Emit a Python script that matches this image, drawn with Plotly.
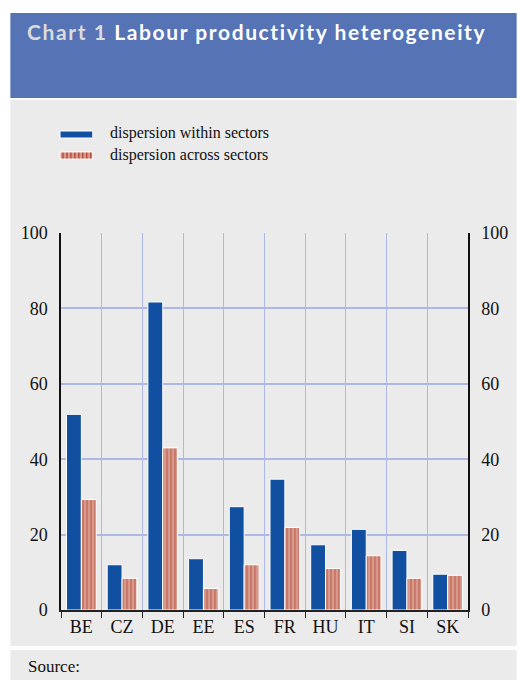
import plotly.graph_objects as go

# Country codes and the two dispersion measures (percent)
countries = ["BE", "CZ", "DE", "EE", "ES", "FR", "HU", "IT", "SI", "SK"]
within_sectors = [51.9, 12.0, 81.7, 13.6, 27.4, 34.7, 17.3, 21.4, 15.8, 9.5]
across_sectors = [29.3, 8.4, 43.0, 5.7, 12.0, 21.9, 11.0, 14.4, 8.4, 9.2]
y_ticks = [0, 20, 40, 60, 80, 100]

W, H = 520, 680
ML, MR, MT, MB = 61, 49, 233, 70
PW, PH = W - ML - MR, H - MT - MB

BLUE = "#1150a0"
SALMON = "#d59a8b"
STRIPE = "#ad2a1c"
GRID = "#aeb8e4"
PANEL = "#ebebeb"
HEADER = "#5573b5"
SERIF = "Liberation Serif, Times New Roman, serif"


def px(x):
    return (x - ML) / PW


def py(y):
    return (H - MB - y) / PH


fig = go.Figure()
fig.add_trace(go.Bar(
    x=countries, y=within_sectors, name="dispersion within sectors",
    marker=dict(color=BLUE, line=dict(color="white", width=1)),
    showlegend=False,
))
fig.add_trace(go.Bar(
    x=countries, y=across_sectors, name="dispersion across sectors",
    marker=dict(color=SALMON, line=dict(color="white", width=1),
                pattern=dict(shape="|", fgcolor=STRIPE, bgcolor=SALMON,
                             size=4, solidity=0.3)),
    showlegend=False,
))
# invisible trace so the right-hand axis is drawn
fig.add_trace(go.Scatter(x=countries, y=[None] * len(countries), yaxis="y2",
                         showlegend=False, hoverinfo="skip"))

shapes = [
    # header band and grey panels
    dict(type="rect", xref="paper", yref="paper", x0=px(10), x1=px(520),
         y0=py(13), y1=py(98), fillcolor=HEADER, line_width=0, layer="below"),
    dict(type="rect", xref="paper", yref="paper", x0=px(10), x1=px(520),
         y0=py(100), y1=py(646), fillcolor=PANEL, line_width=0, layer="below"),
    dict(type="rect", xref="paper", yref="paper", x0=px(10), x1=px(520),
         y0=py(650), y1=py(680), fillcolor=PANEL, line_width=0, layer="below"),
    # legend swatches
    dict(type="rect", xref="paper", yref="paper", x0=px(60), x1=px(93),
         y0=py(131), y1=py(138), fillcolor=BLUE, line=dict(color="white", width=1)),
    dict(type="rect", xref="paper", yref="paper", x0=px(60), x1=px(93),
         y0=py(152), y1=py(159), fillcolor=SALMON, line=dict(color="white", width=1)),
]
for sx in range(63, 93, 4):
    shapes.append(dict(type="line", xref="paper", yref="paper", x0=px(sx), x1=px(sx),
                       y0=py(152.5), y1=py(158.5), line=dict(color=STRIPE, width=1)))

title_text = ("<span style='letter-spacing:1.6px'>"
              "<span style='color:#dcdcdc'>Chart 1</span> Labour productivity heterogeneity"
              "</span>")

annotations = [
    dict(xref="paper", yref="paper", x=px(25), y=py(31), xanchor="left", yanchor="middle",
         text=title_text, showarrow=False,
         font=dict(family="Lato", size=21, color="white", weight="bold")),
    dict(xref="paper", yref="paper", x=px(108), y=py(133), xanchor="left", yanchor="middle",
         text="dispersion within sectors", showarrow=False,
         font=dict(family=SERIF, size=16, color="#111")),
    dict(xref="paper", yref="paper", x=px(108), y=py(155), xanchor="left", yanchor="middle",
         text="dispersion across sectors", showarrow=False,
         font=dict(family=SERIF, size=16, color="#111")),
    dict(xref="paper", yref="paper", x=px(26), y=py(666), xanchor="left", yanchor="middle",
         text="Source:", showarrow=False, font=dict(family=SERIF, size=17, color="#111")),
]

axis_font = dict(family=SERIF, size=18, color="#111")
fig.update_layout(
    width=W, height=H,
    margin=dict(l=ML, r=MR, t=MT, b=MB, pad=0),
    paper_bgcolor="white", plot_bgcolor="rgba(0,0,0,0)",
    barmode="group", bargap=0.27, bargroupgap=0.0,
    shapes=shapes, annotations=annotations, showlegend=False,
    xaxis=dict(type="category", range=[-0.5, len(countries) - 0.5],
               tickson="boundaries", showgrid=True, gridcolor=GRID,
               gridwidth=1, ticks="outside", ticklen=6, tickcolor="#222",
               showline=True, linecolor="#222", linewidth=1.5, tickfont=axis_font),
    yaxis=dict(range=[0, 100], tickvals=y_ticks, showgrid=True, gridcolor=GRID,
               gridwidth=1.5, showline=True, linecolor="#111", linewidth=1.5,
               ticks="", ticklabelstandoff=8, tickfont=axis_font, zeroline=False),
    yaxis2=dict(range=[0, 100], tickvals=y_ticks, overlaying="y", side="right",
                showgrid=False, showline=True, linecolor="#111", linewidth=1.5,
                ticks="", ticklabelstandoff=8, tickfont=axis_font, zeroline=False),
)

fig.write_html("out.html")
